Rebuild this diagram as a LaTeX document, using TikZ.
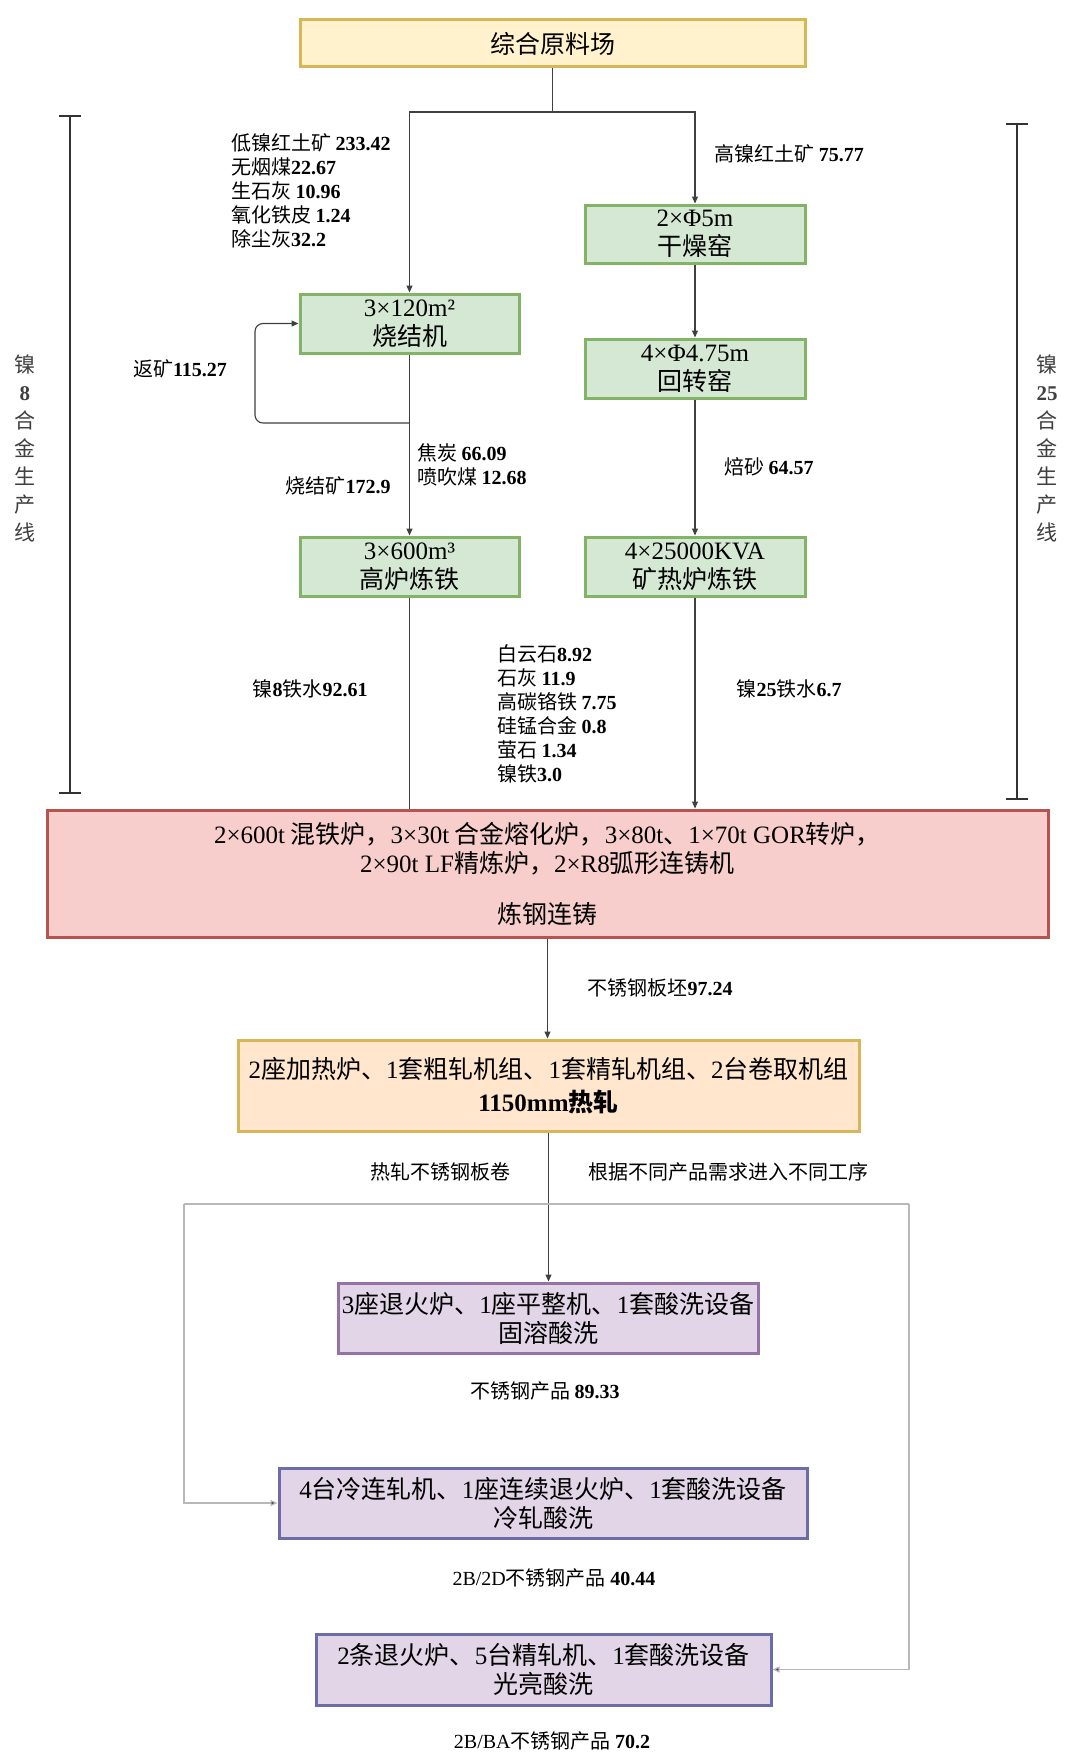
\documentclass[tikz,border=0pt]{standalone}
\usepackage{fontspec}
\setmainfont{Noto Sans CJK SC}
\newfontfamily\latfont{Liberation Serif}
\newcommand\latn[1]{{\latfont #1}}
\newcommand\latb[1]{{\latfont\bfseries #1}}
\usetikzlibrary{arrows.meta}

\definecolor{yfill}{HTML}{FFF2CC}
\definecolor{yline}{HTML}{D6B656}
\definecolor{gfill}{HTML}{D5E8D4}
\definecolor{gline}{HTML}{82B366}
\definecolor{rfill}{HTML}{F8CECC}
\definecolor{rline}{HTML}{B85450}
\definecolor{ofill}{HTML}{FFE6CC}
\definecolor{pfill}{HTML}{E1D5E7}
\definecolor{pline}{HTML}{9673A6}
\definecolor{bline}{HTML}{6C6CA8}

\begin{document}
\begin{tikzpicture}[x=1pt,y=-1pt,
  box/.style={draw, line width=3pt, inner sep=0pt, align=center,
    font=\fontsize{25}{29}\selectfont},
  ybox/.style={box, fill=yfill, draw=yline},
  gbox/.style={box, fill=gfill, draw=gline},
  rbox/.style={box, fill=rfill, draw=rline},
  obox/.style={box, fill=ofill, draw=yline},
  pbox/.style={box, fill=pfill, draw=pline},
  bbox/.style={box, fill=pfill, draw=bline},
  lbl/.style={inner sep=0pt, align=left, font=\fontsize{20}{24}\selectfont},
  side/.style={inner sep=0pt, align=center, font=\fontsize{21}{28}\selectfont, text=black!75},
  conn/.style={draw=black!75, line width=1.1pt},
  arr/.style={conn, -{Triangle[length=7pt,width=6pt]}},
  gconn/.style={draw=black!28, line width=1.2pt},
  garr/.style={gconn, -{Triangle[length=7pt,width=6pt,fill=black!75]}},
  sidebar/.style={draw=black!80, line width=2pt, {Bar[width=22pt]}-{Bar[width=22pt]}}
]
\useasboundingbox[fill=white] (0,0) rectangle (1071,1753);

% raw material yard
\node[ybox, minimum width=505pt, minimum height=47pt] (yard) at (552.5,43.5) {综合原料场};

% sinter / blast furnace line
\node[gbox, minimum width=219pt, minimum height=59pt] (sinter) at (409.5,323.5)
  {\latn{3×120m²}\\烧结机};
\node[gbox, minimum width=219pt, minimum height=59pt] (bf) at (409.5,566.5)
  {\latn{3×600m³}\\高炉炼铁};

% dryer / kiln / electric furnace line
\node[gbox, minimum width=220pt, minimum height=58pt] (dryer) at (695,234)
  {\latn{2×Φ5m}\\干燥窑};
\node[gbox, minimum width=220pt, minimum height=59pt] (kiln) at (695,368.5)
  {\latn{4×Φ4.75m}\\回转窑};
\node[gbox, minimum width=220pt, minimum height=59pt] (eaf) at (695,566.5)
  {\latn{4×25000KVA}\\矿热炉炼铁};

% steelmaking
\node[rbox, minimum width=1001pt, minimum height=127pt] (steel) at (547.5,873.5)
  {\latn{2×600t} 混铁炉，\latn{3×30t} 合金熔化炉，\latn{3×80t}、\latn{1×70t GOR}转炉，\\
   \latn{2×90t LF}精炼炉，\latn{2×R8}弧形连铸机\\[22pt]炼钢连铸};

% hot rolling
\node[obox, minimum width=621pt, minimum height=91pt, font=\fontsize{25}{33}\selectfont] (hot) at (548.5,1085.5)
  {\latn{2}座加热炉、\latn{1}套粗轧机组、\latn{1}套精轧机组、\latn{2}台卷取机组\\
   \textbf{\latb{1150mm}热轧}};

% finishing lines
\node[pbox, minimum width=420pt, minimum height=70pt] (anneal) at (548,1318)
  {\latn{3}座退火炉、\latn{1}座平整机、\latn{1}套酸洗设备\\固溶酸洗};
\node[bbox, minimum width=528pt, minimum height=70pt] (cold) at (543,1503)
  {\latn{4}台冷连轧机、\latn{1}座连续退火炉、\latn{1}套酸洗设备\\冷轧酸洗};
\node[bbox, minimum width=455pt, minimum height=71pt] (bright) at (543.5,1669.5)
  {\latn{2}条退火炉、\latn{5}台精轧机、\latn{1}套酸洗设备\\光亮酸洗};

% raw material split
\coordinate (split) at (552.5,112);
\draw[conn] (yard.south) -- (split);
\draw[arr] (split) -| (sinter.north);
\draw[arr] (split) -| (dryer.north);

% sinter return loop and main flows
\coordinate (ret) at (409.5,423);
\draw[arr, rounded corners=8pt] (ret) -- (255,423) -- (255,323.5) -- (sinter.west);
\draw[arr] (sinter.south) -- (bf.north);
\draw[arr] (dryer.south) -- (kiln.north);
\draw[arr] (kiln.south) -- (eaf.north);
\draw[conn] (bf.south) -- (bf.south |- steel.north);
\draw[arr] (eaf.south) -- (eaf.south |- steel.north);
\draw[arr] (steel.south) -- (steel.south |- hot.north);
\draw[arr] (hot.south) -- (hot.south |- anneal.north);

% distribution to finishing lines
\coordinate (gl) at (184,1204);
\coordinate (gr) at (909,1204);
\draw[gconn] (gl) -- (gr);
\draw[garr] (gl) |- (cold.west);
\draw[garr] (gr) |- (bright.east);

% flow labels
\node[lbl, anchor=west] (feedL) at (231,191)
  {低镍红土矿 \latb{233.42}\\无烟煤\latb{22.67}\\生石灰 \latb{10.96}\\氧化铁皮 \latb{1.24}\\除尘灰\latb{32.2}};
\node[lbl] (feedR) at (789,154) {高镍红土矿 \latb{75.77}};
\node[lbl] (retlbl) at (180,369) {返矿\latb{115.27}};
\node[lbl] (sinlbl) at (338,486) {烧结矿\latb{172.9}};
\node[lbl, anchor=west] (coke) at (417,465) {焦炭 \latb{66.09}\\喷吹煤 \latb{12.68}};
\node[lbl] (calc) at (769,467) {焙砂 \latb{64.57}};
\node[lbl] (hmL) at (310,689) {镍\latb{8}铁水\latb{92.61}};
\node[lbl] (hmR) at (789,689) {镍\latb{25}铁水\latb{6.7}};
\node[lbl, anchor=west] (flux) at (497,714)
  {白云石\latb{8.92}\\石灰 \latb{11.9}\\高碳铬铁 \latb{7.75}\\硅锰合金 \latb{0.8}\\萤石 \latb{1.34}\\镍铁\latb{3.0}};
\node[lbl] (slab) at (660,988) {不锈钢板坯\latb{97.24}};
\node[lbl] (coil) at (440,1172) {热轧不锈钢板卷};
\node[lbl] (route) at (728,1172) {根据不同产品需求进入不同工序};
\node[lbl] (p1) at (545,1391) {不锈钢产品 \latb{89.33}};
\node[lbl] (p2) at (554,1578) {\latn{2B/2D}不锈钢产品 \latb{40.44}};
\node[lbl] (p3) at (552,1741) {\latn{2B/BA}不锈钢产品 \latb{70.2}};

% production line brackets
\coordinate (lbt) at (70,115);
\coordinate (lbb) at (70,794);
\coordinate (rbt) at (1017,123);
\coordinate (rbb) at (1017,800);
\draw[sidebar] (lbt) -- (lbb);
\draw[sidebar] (rbt) -- (rbb);
\node[side] (lineL) at (25,448) {镍\\\latb{8}\\合\\金\\生\\产\\线};
\node[side] (lineR) at (1047,448) {镍\\\latb{25}\\合\\金\\生\\产\\线};
\end{tikzpicture}
\end{document}
